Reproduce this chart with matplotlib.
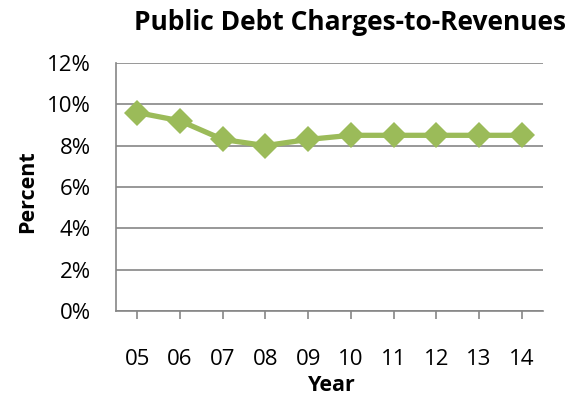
import matplotlib
matplotlib.use("Agg")
import matplotlib.pyplot as plt
from matplotlib.ticker import FuncFormatter

# debt charges as share of revenues, by fiscal year
years = ["05", "06", "07", "08", "09", "10", "11", "12", "13", "14"]
ratio = [9.6, 9.2, 8.3, 8.0, 8.3, 8.5, 8.5, 8.5, 8.5, 8.5]

plt.rcParams['font.family'] = ['Open Sans', 'DejaVu Sans']

fig = plt.figure(figsize=(5.76, 3.96), dpi=100)
ax = fig.add_axes([0.2014, 0.2146, 0.7413, 0.6264])

x = list(range(len(years)))
ax.plot(x, ratio, color='#9BBB59', linewidth=3.8, marker='D',
        markersize=13, markeredgewidth=0, zorder=3)

ax.set_xlim(-0.5, len(years) - 0.5)
ax.set_ylim(0, 12)
ax.set_yticks(range(0, 13, 2))
ax.yaxis.set_major_formatter(FuncFormatter(lambda v, p: '{:.0f}%'.format(v)))
ax.set_xticks(x)
ax.set_xticklabels(years)

ax.grid(axis='y', color='#868686', linewidth=1.2)
ax.set_axisbelow(True)
for s in ['top', 'right']:
    ax.spines[s].set_visible(False)
for s in ['left', 'bottom']:
    ax.spines[s].set_color('#868686')
    ax.spines[s].set_linewidth(1.2)

ax.tick_params(axis='y', length=0, labelsize=16, pad=18)
ax.tick_params(axis='x', direction='out', length=6, width=1.2,
               color='#868686', labelsize=16, pad=21)

ax.set_xlabel('Year', fontsize=15.5, fontweight='bold', va='center')
ax.set_ylabel('Percent', fontsize=15.5, fontweight='bold', va='center')
ax.xaxis.set_label_coords(0.505, -0.302)
ax.yaxis.set_label_coords(-0.208, 0.48)
fig.text(0.608, 0.944, 'Public Debt Charges-to-Revenues', ha='center',
         va='center', fontsize=19, fontweight='bold')

fig.savefig('out.png', dpi=100)
